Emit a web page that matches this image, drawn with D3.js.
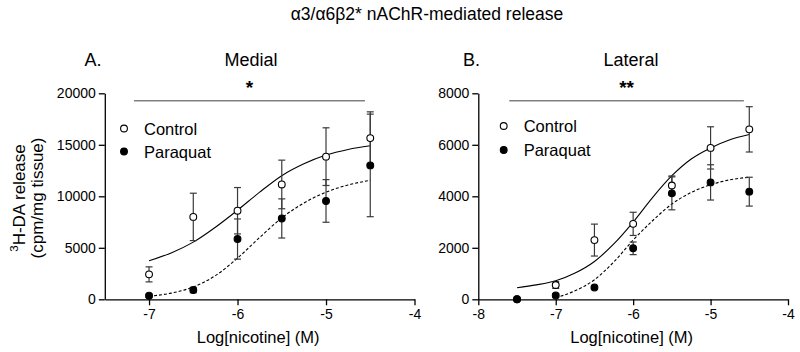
<!DOCTYPE html>
<html>
<head>
<meta charset="utf-8">
<script src="https://cdn.jsdelivr.net/npm/d3@7"></script>
<style>
  html, body { margin: 0; padding: 0; background: #fff; }
  svg { display: block; font-family: "Liberation Sans", Arial, sans-serif; }
</style>
</head>
<body>
<svg id="chart" width="800" height="352"></svg>
<script>
// ---------------- data ----------------
const seriesNames = ["Control", "Paraquat"];

// Panel A: Medial
const medialConc = [-7, -6.5, -6, -5.5, -5, -4.5];
const medialControl = [2420, 8000, 8600, 11150, 13850, 15650];
const medialControlSem = [730, 2300, 2250, 2360, 2800, 2550];
const medialParaquat = [350, 900, 5850, 7850, 9550, 13000];
const medialParaquatSem = [150, 260, 1950, 1900, 2070, 4980];
const medialFitConc = [-7, -6.75, -6.5, -6.25, -6, -5.75, -5.5, -5.25, -5, -4.75, -4.5];
const medialControlFit = [3750, 4500, 5550, 7000, 8650, 10400, 12000, 13150, 14000, 14550, 14900];
const medialParaquatFit = [300, 600, 1200, 2300, 4000, 6000, 7900, 9350, 10400, 11100, 11550];
const medialYTicks = [0, 5000, 10000, 15000, 20000];
const medialXTicks = [-7, -6, -5, -4];
const medialSig = { from: -7.17, to: -4.56, level: 19280, label: "*" };

// Panel B: Lateral
const lateralConc = [-7.5, -7, -6.5, -6, -5.5, -5, -4.5];
const lateralControl = [0, 555, 2300, 2930, 4420, 5880, 6600];
const lateralControlSem = [0, 130, 620, 450, 370, 820, 880];
const lateralParaquat = [0, 150, 460, 1980, 4115, 4540, 4180];
const lateralParaquatSem = [0, 60, 50, 245, 640, 685, 560];
const lateralControlFitConc = [-7.5, -7.25, -7, -6.75, -6.5, -6.25, -6, -5.75, -5.5, -5.25, -5, -4.75, -4.5];
const lateralControlFit = [450, 560, 720, 1020, 1470, 2150, 3000, 3950, 4800, 5450, 5880, 6200, 6400];
const lateralParaquatFitConc = [-7, -6.75, -6.5, -6.25, -6, -5.75, -5.5, -5.25, -5, -4.75, -4.5];
const lateralParaquatFit = [60, 330, 760, 1450, 2300, 3050, 3700, 4150, 4450, 4640, 4740];
const lateralYTicks = [0, 2000, 4000, 6000, 8000];
const lateralXTicks = [-8, -7, -6, -5, -4];
const lateralSig = { from: -7.6, to: -4.57, level: 7713, label: "**" };

const titleText = "\u03B13/\u03B16\u03B22* nAChR-mediated release";
const xLabelText = "Log[nicotine] (M)";

// ---------------- drawing ----------------
const svg = d3.select("#chart");
svg.append("rect").attr("width", 800).attr("height", 352).attr("fill", "#fff");

svg.append("text")
  .attr("x", 427).attr("y", 20)
  .attr("text-anchor", "middle")
  .attr("font-size", 17.5)
  .text(titleText);

function zip(xs, ys) { return xs.map((x, i) => [x, ys[i]]); }

function drawPanel(cfg) {
  const x = d3.scaleLinear().domain(cfg.xDomain).range(cfg.xRange);
  const y = d3.scaleLinear().domain(cfg.yDomain).range([299.3, 93.3]);
  const g = svg.append("g");

  // panel letter & subtitle
  g.append("text").attr("x", cfg.letterX).attr("y", 66).attr("font-size", 18).text(cfg.letter);
  g.append("text").attr("x", cfg.subtitleX).attr("y", 66).attr("font-size", 18)
    .attr("text-anchor", "middle").text(cfg.subtitle);

  // axes
  const yAxis = d3.axisLeft(y).tickValues(cfg.yTicks).tickFormat(d3.format("d"))
    .tickSize(6).tickSizeOuter(0).tickPadding(3);
  const xAxis = d3.axisBottom(x).tickValues(cfg.xTicks).tickFormat(d => d3.format("d")(d).replace("\u2212", "-"))
    .tickSize(6).tickSizeOuter(0).tickPadding(4);

  const ya = g.append("g").attr("transform", `translate(${cfg.xRange[0]},0)`).call(yAxis);
  const xa = g.append("g").attr("transform", `translate(0,299.3)`).call(xAxis);
  [ya, xa].forEach(a => {
    a.selectAll("path, line").attr("stroke", "#000").attr("stroke-width", 1.3);
    a.selectAll("text").attr("font-size", 14).attr("fill", "#000")
      .attr("font-family", "\"Liberation Sans\", Arial, sans-serif");
  });

  // x label
  g.append("text").attr("x", (cfg.xRange[0] + cfg.xRange[1]) / 2 - 1.5).attr("y", 343)
    .attr("text-anchor", "middle").attr("font-size", 16.5).text(xLabelText);

  // significance bar
  g.append("line")
    .attr("x1", x(cfg.sig.from)).attr("x2", x(cfg.sig.to))
    .attr("y1", y(cfg.sig.level)).attr("y2", y(cfg.sig.level))
    .attr("stroke", "#808080").attr("stroke-width", 1.5);
  g.append("text").attr("x", (x(cfg.sig.from) + x(cfg.sig.to)) / 2).attr("y", 94)
    .attr("text-anchor", "middle").attr("font-size", 19).attr("font-weight", "bold").text(cfg.sig.label);

  // fitted curves
  const line = d3.line().x(d => x(d[0])).y(d => y(d[1])).curve(d3.curveMonotoneX);
  g.append("path").datum(zip(cfg.ctrlFitX, cfg.ctrlFit)).attr("d", line)
    .attr("fill", "none").attr("stroke", "#000").attr("stroke-width", 1.1);
  g.append("path").datum(zip(cfg.pqFitX, cfg.pqFit)).attr("d", line)
    .attr("fill", "none").attr("stroke", "#000").attr("stroke-width", 1.1)
    .attr("stroke-dasharray", "3,2");

  // error bars
  const series = [
    { vals: cfg.ctrl, sem: cfg.ctrlSem, fill: "#fff" },
    { vals: cfg.pq, sem: cfg.pqSem, fill: "#000" }
  ];
  const cap = 3.5;
  series.forEach(s => {
    const pts = cfg.conc.map((c, i) => ({ c, v: s.vals[i], e: s.sem[i] })).filter(p => p.e > 0);
    const eg = g.append("g").attr("stroke", "#3a3a3a").attr("stroke-width", 1.2);
    eg.selectAll(".v").data(pts).join("line")
      .attr("x1", p => x(p.c)).attr("x2", p => x(p.c))
      .attr("y1", p => y(p.v - p.e)).attr("y2", p => y(p.v + p.e));
    eg.selectAll(".t").data(pts).join("line")
      .attr("x1", p => x(p.c) - cap).attr("x2", p => x(p.c) + cap)
      .attr("y1", p => y(p.v + p.e)).attr("y2", p => y(p.v + p.e));
    eg.selectAll(".b").data(pts).join("line")
      .attr("x1", p => x(p.c) - cap).attr("x2", p => x(p.c) + cap)
      .attr("y1", p => y(p.v - p.e)).attr("y2", p => y(p.v - p.e));
  });
  // markers
  series.forEach(s => {
    g.append("g").selectAll("circle").data(cfg.conc.map((c, i) => [c, s.vals[i]])).join("circle")
      .attr("cx", d => x(d[0])).attr("cy", d => y(d[1])).attr("r", 3.4)
      .attr("fill", s.fill).attr("stroke", "#000").attr("stroke-width", 1.1);
  });

  // legend
  const lg = g.append("g");
  seriesNames.forEach((name, i) => {
    const cy = cfg.legendY[i];
    lg.append("circle").attr("cx", cfg.legendX).attr("cy", cy).attr("r", 3.4)
      .attr("fill", series[i].fill).attr("stroke", "#000").attr("stroke-width", 1.1);
    lg.append("text").attr("x", cfg.legendX + 20).attr("y", cy + 6.2)
      .attr("font-size", 16.5).text(name);
  });
}

drawPanel({
  letter: "A.", letterX: 84.5, subtitle: "Medial", subtitleX: 251,
  xDomain: [-7.5, -4], xRange: [104.8, 414.5], yDomain: [0, 20000],
  yTicks: medialYTicks, xTicks: medialXTicks, sig: medialSig,
  conc: medialConc, ctrl: medialControl, ctrlSem: medialControlSem,
  pq: medialParaquat, pqSem: medialParaquatSem,
  ctrlFitX: medialFitConc, ctrlFit: medialControlFit,
  pqFitX: medialFitConc, pqFit: medialParaquatFit,
  legendX: 124, legendY: [128.5, 151.5]
});

drawPanel({
  letter: "B.", letterX: 463, subtitle: "Lateral", subtitleX: 631,
  xDomain: [-8, -4], xRange: [478.3, 788], yDomain: [0, 8000],
  yTicks: lateralYTicks, xTicks: lateralXTicks, sig: lateralSig,
  conc: lateralConc, ctrl: lateralControl, ctrlSem: lateralControlSem,
  pq: lateralParaquat, pqSem: lateralParaquatSem,
  ctrlFitX: lateralControlFitConc, ctrlFit: lateralControlFit,
  pqFitX: lateralParaquatFitConc, pqFit: lateralParaquatFit,
  legendX: 503.7, legendY: [126, 150]
});

// y-axis label (two lines, rotated)
const yl = svg.append("g").attr("transform", "translate(0,198)");
const l1 = yl.append("text").attr("transform", "translate(24.5,0) rotate(-90)")
  .attr("text-anchor", "middle").attr("font-size", 17);
l1.append("tspan").attr("font-size", 11.5).attr("dy", -6.5).text("3");
l1.append("tspan").attr("dy", 6.5).text("H-DA release");
yl.append("text").attr("transform", "translate(42.5,0) rotate(-90)")
  .attr("text-anchor", "middle").attr("font-size", 17).text("(cpm/mg tissue)");
</script>
</body>
</html>
